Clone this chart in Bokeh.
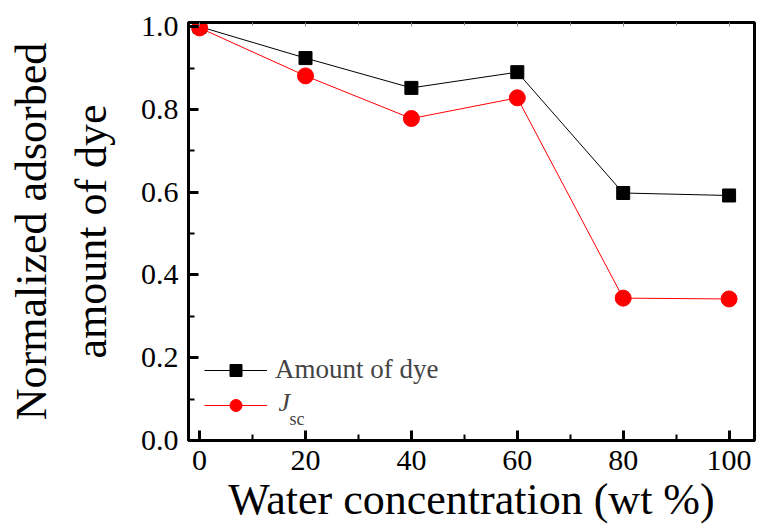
from bokeh.plotting import figure
from bokeh.models import Range1d, LinearAxis, Legend, LegendItem, Label, FixedTicker, CustomJSTickFormatter
from bokeh.embed import file_html
from bokeh.resources import INLINE

water = [0, 20, 40, 60, 80, 100]
amount_dye = [1.0, 0.924, 0.852, 0.890, 0.598, 0.592]
jsc = [0.997, 0.881, 0.778, 0.828, 0.344, 0.342]
x_ticks = [0, 20, 40, 60, 80, 100]
y_ticks = [0.0, 0.2, 0.4, 0.6, 0.8, 1.0]

FONT = "Liberation Serif"

p = figure(width=757, height=531, output_backend="svg", toolbar_location=None,
           x_range=Range1d(-2.1, 104.8), y_range=Range1d(0, 1.01),
           min_border_left=188, min_border_right=3, min_border_top=22, min_border_bottom=91)
p.grid.visible = False
p.outline_line_color = "black"
p.outline_line_width = 3
p.background_fill_color = "white"
p.border_fill_color = "white"

for ax in [p.xaxis[0], p.yaxis[0]]:
    ax.axis_line_width = 3
    ax.major_tick_line_width = 3
    ax.minor_tick_line_width = 2
    ax.major_tick_in = 10
    ax.major_tick_out = 0
    ax.minor_tick_in = 6
    ax.minor_tick_out = 0
    ax.major_label_text_font = FONT
    ax.major_label_text_font_size = "30px"
    ax.major_label_text_color = "black"
    ax.axis_label_text_font = FONT
    ax.axis_label_text_font_style = "normal"
    ax.axis_label_text_font_size = "44px"
    ax.axis_label_text_color = "black"

p.xaxis[0].ticker = FixedTicker(ticks=x_ticks, minor_ticks=[10, 30, 50, 70, 90])
p.yaxis[0].ticker = FixedTicker(ticks=y_ticks, minor_ticks=[0.1, 0.3, 0.5, 0.7, 0.9])
p.yaxis[0].formatter = CustomJSTickFormatter(code="return tick.toFixed(1);")
p.xaxis[0].axis_label = "Water concentration (wt %)"
p.yaxis[0].axis_label = "Normalized adsorbed\namount of dye"
p.yaxis[0].axis_label_text_line_height = 1.22
p.xaxis[0].major_label_standoff = 10
p.yaxis[0].major_label_standoff = 10
p.xaxis[0].axis_label_standoff = 2
p.yaxis[0].axis_label_standoff = 22

top = LinearAxis(ticker=FixedTicker(ticks=x_ticks, minor_ticks=[10, 30, 50, 70, 90]),
                 formatter=CustomJSTickFormatter(code="return '';"),
                 axis_line_width=3,
                 major_tick_in=4, major_tick_out=0, minor_tick_in=3, minor_tick_out=0,
                 major_tick_line_color="#888888", minor_tick_line_color="#888888")
p.add_layout(top, "above")

l1 = p.line(water, amount_dye, line_color="black", line_width=1)
s1 = p.scatter(water, amount_dye, marker="square", size=13, fill_color="black", line_color="black")
l2 = p.line(water, jsc, line_color="red", line_width=1)
s2 = p.scatter(water, jsc, marker="circle", size=16, fill_color="red", line_color="red")

legend = Legend(items=[LegendItem(label="Amount of dye", renderers=[l1, s1]),
                       LegendItem(label=" ", renderers=[l2, s2])],
                glyph_width=63, glyph_height=30,
                label_text_font=FONT, label_text_font_size="27px",
                label_standoff=8, spacing=5, padding=4, border_line_alpha=0,
                background_fill_alpha=0, location=(12, 16))
p.add_layout(legend, "center")

jl = Label(x=90, y=24, x_units="screen", y_units="screen",
           text="J", text_font=FONT, text_font_style="italic", text_font_size="26px")
sl = Label(x=101, y=12, x_units="screen", y_units="screen",
           text="sc", text_font=FONT, text_font_size="18px")
p.add_layout(jl)
p.add_layout(sl)

open("out.html", "w").write(file_html(p, INLINE))
